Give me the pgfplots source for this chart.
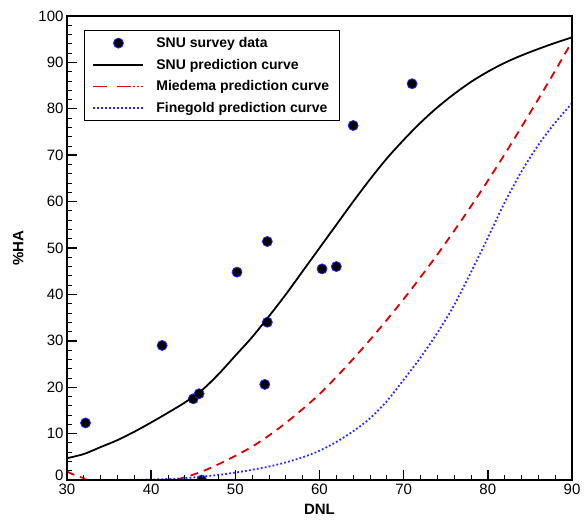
\documentclass[border=0pt]{standalone}
\usepackage{fontspec}
\setmainfont{Liberation Sans}
\usepackage{pgfplots}
\pgfplotsset{compat=1.18}

\definecolor{mredc}{RGB}{220,0,0}
\definecolor{fblue}{RGB}{40,40,255}

\begin{document}
\begin{tikzpicture}
\begin{axis}[
    scale only axis,
    width=505pt, height=464pt,
    xmin=30, xmax=90, ymin=0, ymax=100,
    xtick={30,40,...,90}, ytick={0,10,...,100},
    yticklabels={\raisebox{9pt}{0},10,20,30,40,50,60,70,80,90,100},
    xtick pos=bottom, ytick pos=left,
    tick align=inside,
    major tick length=10pt,
    every tick/.append style={black, line width=1.4pt},
    clip marker paths=true,
    /pgf/number format/assume math mode=true,
    ticklabel style={font=\fontsize{15}{18}\selectfont},
    xlabel={\textbf{DNL}}, ylabel={\textbf{\%HA}},
    label style={font=\fontsize{15}{18}\selectfont},
    xlabel style={yshift=-3pt},
    ylabel style={yshift=8pt},
    legend cell align=left,
    legend style={at={(0.034,0.97)}, anchor=north west,
        draw=black, line width=0.8pt,
        font=\fontsize{14}{16}\selectfont\bfseries,
        row sep=6pt, inner xsep=8pt, inner ysep=5pt},
    legend image code/.code={\draw[#1] (0pt,0pt) -- (50pt,0pt); \path (60pt,0pt);},
]
\addplot[only marks, mark=*, mark size=5pt,
    mark options={fill=black, draw=fblue, line width=0.8pt},
    legend image code/.code={\draw[##1] plot coordinates {(25pt,0pt)}; \path (0pt,0pt) (60pt,0pt);}]
  coordinates {
  (32.2,12.3) (41.3,29.0) (45.0,17.5) (45.7,18.6) (46.0,0.0)
  (50.2,44.8) (53.5,20.6) (53.8,34.0) (53.8,51.4) (60.3,45.5)
  (62.0,46.0) (64.0,76.4) (71.0,85.4)};
\addlegendentry{SNU survey data}

\addplot[black, line width=1.8pt, smooth] coordinates {
  (30,4.7) (32,5.6) (34,7.1) (36,8.6) (38,10.4) (40,12.4) (42,14.5)
  (44,16.7) (46,19.3) (48,22.8) (50,26.8) (52,30.8) (54,35.3) (56,40)
  (58,45) (60,50) (62,55) (64,60) (66,64.8) (68,69.3) (70,73.3) (72,77)
  (74,80.3) (76,83.2) (78,85.8) (80,88) (82,89.9) (84,91.5) (86,92.9)
  (88,94.2) (90,95.4)};
\addlegendentry{SNU prediction curve}

\addplot[mredc, line width=1.8pt, smooth, dash pattern=on 8pt off 6pt,
    legend image code/.code={\draw[mredc, line width=1.8pt,
      dash pattern=on 14pt off 10pt on 14pt off 2pt on 2pt off 2pt on 2pt off 2pt on 2pt off 2pt]
      (0pt,0pt) -- (50pt,0pt); \path (60pt,0pt);}]
  coordinates {
  (30,1.8) (31,1.0) (32,0.4) (33,0) (42,0) (44,0.6) (46,1.8) (48,3.4)
  (50,5.2) (52,7.2) (54,9.6) (56,12.3) (58,15.3) (60,18.5) (62,22.2)
  (64,26.1) (66,30.2) (68,34.5) (70,39) (72,43.7) (74,48.6) (76,53.7)
  (78,59) (80,64.5) (82,70.2) (84,76.1) (86,82.1) (88,88.2) (90,94.5)};
\addlegendentry{Miedema prediction curve}

\addplot[fblue, line width=1.8pt, smooth, dash pattern=on 1.8pt off 2.2pt]
  coordinates {
  (36,0) (40,0.1) (44,0.4) (48,1.1) (50,1.6) (52,2.2) (54,2.9) (56,3.8)
  (58,4.9) (60,6.3) (62,8.2) (64,10.5) (66,13.3) (68,17.0) (70,21.6)
  (72,26.4) (74,31.7) (76,37.7) (78,44.8) (80,52.2) (82,59.8) (84,66.5)
  (86,72.2) (88,77) (90,81.2)};
\addlegendentry{Finegold prediction curve}

% tick marks on the inner side of the frame
\pgfplotsinvokeforeach{32,34,...,88}{\draw[black, line width=0.8pt] (axis cs:#1,0) -- ++(0pt,5pt);}
\pgfplotsinvokeforeach{40,50,...,80}{\draw[black, line width=1.4pt] (axis cs:#1,0) -- ++(0pt,10pt);}
\pgfplotsinvokeforeach{2,4,...,98}{\draw[black, line width=0.8pt] (axis cs:30,#1) -- ++(5pt,0pt);}
\pgfplotsinvokeforeach{10,20,...,90}{\draw[black, line width=1.4pt] (axis cs:30,#1) -- ++(10pt,0pt);}
\end{axis}
\draw[line width=2.6pt] (current axis.south west) rectangle (current axis.north east);
\pgfresetboundingbox
\path[use as bounding box] (-67pt,-39pt) rectangle (521pt,480pt);
\end{tikzpicture}
\end{document}
